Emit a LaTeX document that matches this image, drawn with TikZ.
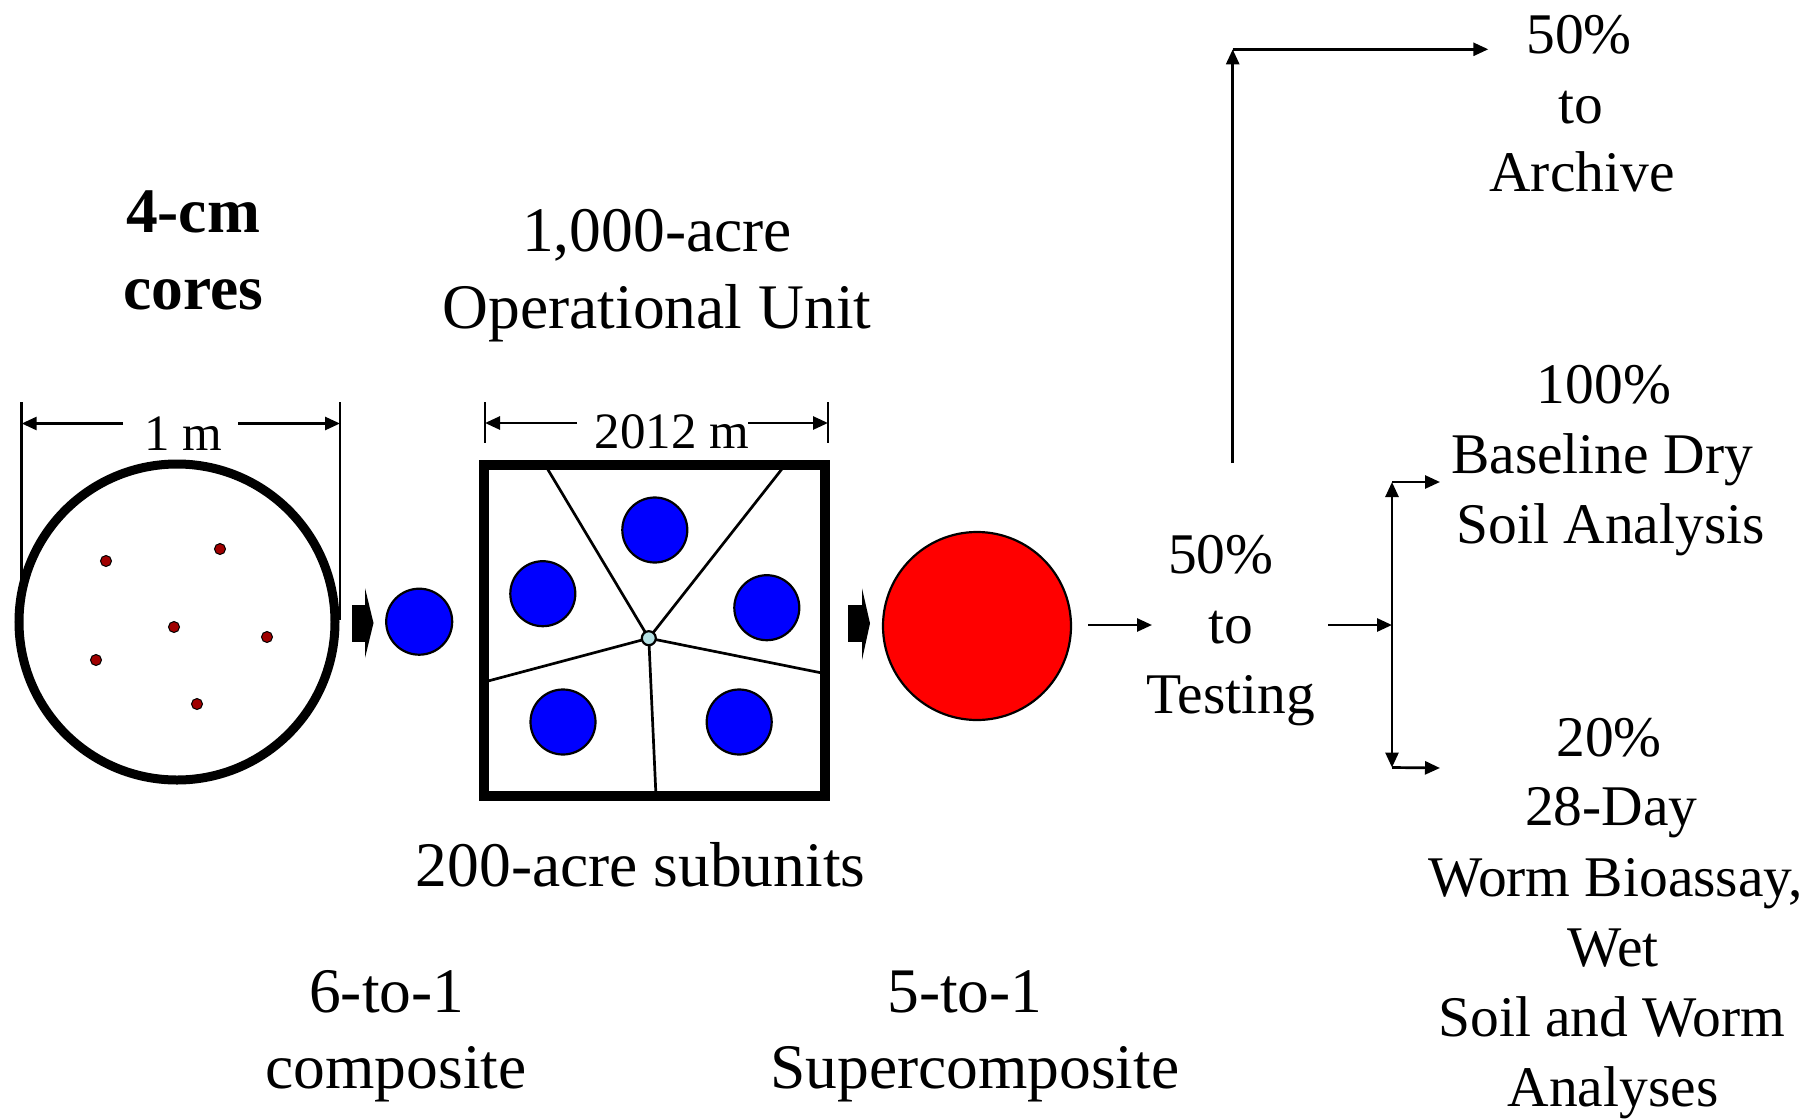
\documentclass[tikz,border=0pt]{standalone}
\usepackage{fontspec}
\setmainfont{Liberation Serif}
\usetikzlibrary{arrows.meta}
\definecolor{dotred}{RGB}{160,0,0}
\definecolor{pblue}{RGB}{180,225,228}
\definecolor{bblue}{RGB}{0,0,255}
\definecolor{rred}{RGB}{255,0,0}
\begin{document}
\begin{tikzpicture}[x=1pt,y=-1pt,
  bigtxt/.style={font=\fontsize{63.5}{76}\selectfont, anchor=base, inner sep=0pt},
  boldtxt/.style={font=\fontsize{63.5}{76}\selectfont\bfseries, anchor=base, inner sep=0pt},
  midtxt/.style={font=\fontsize{57.5}{69}\selectfont, anchor=base, inner sep=0pt},
  dimtxt/.style={font=\fontsize{51}{60}\selectfont, anchor=base, inner sep=0pt},
  thinline/.style={line width=2.7pt},
  arr/.style={thinline, -{Triangle[length=15pt,width=13pt]}},
  dblarr/.style={thinline, {Triangle[length=15pt,width=13pt]}-{Triangle[length=15pt,width=13pt]}},
  dot/.style={circle, draw=black, line width=1pt, fill=dotred, minimum size=11pt, inner sep=0pt},
  bluedisc/.style={circle, draw=black, line width=2.2pt, fill=bblue, minimum size=65pt, inner sep=0pt},
  blockarrow/.style={fill=black}
]
\useasboundingbox (0,0) rectangle (1810,1119);

% ---------- left: core circle ----------
\node[circle, draw=black, line width=9pt, minimum size=316pt, inner sep=0pt] (core) at (177,622) {};
\node[dot] (d1) at (106,561) {};
\node[dot] (d2) at (220,549) {};
\node[dot] (d3) at (174,627) {};
\node[dot] (d4) at (267,637) {};
\node[dot] (d5) at (96,660) {};
\node[dot] (d6) at (197,704) {};

% dimension 1 m
\coordinate (ta1) at (21.7,402);
\coordinate (tb1) at (21.7,620);
\coordinate (ta2) at (340,402);
\coordinate (tb2) at (340,620);
\coordinate (al1) at (123,423.5);
\coordinate (al2) at (21.7,423.5);
\coordinate (ar1) at (238,423.5);
\coordinate (ar2) at (340,423.5);
\draw[thinline] (ta1) -- (tb1);
\draw[thinline] (ta2) -- (tb2);
\draw[arr] (al1) -- (al2);
\draw[arr] (ar1) -- (ar2);
\node[dimtxt] (onem) at (183.3,450) {1 m};

\node[boldtxt] (cm1) at (193,232) {4-cm};
\node[boldtxt] (cm2) at (193,309) {cores};

% block arrow 1
\fill[blockarrow] (351.7,605) rectangle (367,642);
\fill[blockarrow] (365,588) -- (373.5,623) -- (365,658) -- cycle;
\node[bluedisc, minimum size=66pt] (comp) at (419.2,621.7) {};

% ---------- square unit ----------
\coordinate (hub) at (648.8,638.2);
\coordinate (eUL) at (545,464.7);
\coordinate (eUR) at (785.3,464.7);
\coordinate (eL) at (484.3,682);
\coordinate (eR) at (825,673.6);
\coordinate (eB) at (656,796.2);
\draw[thinline] (hub) -- (eUL);
\draw[thinline] (hub) -- (eUR);
\draw[thinline] (hub) -- (eL);
\draw[thinline] (hub) -- (eR);
\draw[thinline] (hub) -- (eB);
\node[rectangle, draw=black, line width=10pt, minimum width=340.7pt, minimum height=331.5pt, inner sep=0pt] (unit) at (654.65,630.45) {};
\node[circle, draw=black, line width=2.2pt, fill=pblue, minimum size=14pt, inner sep=0pt] (hubc) at (hub) {};
\node[bluedisc] (s1) at (654.8,530) {};
\node[bluedisc] (s2) at (542.8,593.7) {};
\node[bluedisc] (s3) at (766.8,607.7) {};
\node[bluedisc] (s4) at (563,722) {};
\node[bluedisc] (s5) at (739.2,722) {};

% dimension 2012 m
\coordinate (tc1) at (485,402);
\coordinate (td1) at (485,443);
\coordinate (tc2) at (828,402);
\coordinate (td2) at (828,443);
\coordinate (bl1) at (577,423);
\coordinate (bl2) at (485,423);
\coordinate (br1) at (748,423);
\coordinate (br2) at (828,423);
\draw[thinline] (tc1) -- (td1);
\draw[thinline] (tc2) -- (td2);
\draw[arr] (bl1) -- (bl2);
\draw[arr] (br1) -- (br2);
\node[dimtxt] (twom) at (672,448) {2012 m};

\node[bigtxt] (ou1) at (657,251.6) {1,000-acre};
\node[bigtxt] (ou2) at (657,328) {Operational Unit};
\node[bigtxt] (sub) at (640.6,886.5) {200-acre subunits};

% block arrow 2
\fill[blockarrow] (848.3,605) rectangle (863.3,641.7);
\fill[blockarrow] (862,588.3) -- (870,623.3) -- (862,660) -- cycle;
\node[circle, draw=black, line width=2.2pt, fill=rred, minimum size=188pt, inner sep=0pt] (super) at (977,626) {};

% bottom labels
\node[bigtxt] (c61) at (386.7,1012) {6-to-1};
\node[bigtxt] (c62) at (396,1088.5) {composite};
\node[bigtxt] (c51) at (965,1012) {5-to-1};
\node[bigtxt] (c52) at (974.8,1088.5) {Supercomposite};

% ---------- testing ----------
\coordinate (rs) at (1088,625);
\coordinate (re) at (1152,625);
\draw[arr] (rs) -- (re);
\node[midtxt] (te1) at (1220.7,573.5) {50\%};
\node[midtxt] (te2) at (1231,643.3) {to};
\node[midtxt] (te3) at (1231,713.3) {Testing};

% archive branch
\coordinate (av0) at (1232.7,463);
\coordinate (av1) at (1232.7,49.3);
\coordinate (ah1) at (1488.3,49.3);
\draw[arr] (av0) -- (av1);
\draw[arr] (av1) -- (ah1);
\node[midtxt] (ar1t) at (1579,53) {50\%};
\node[midtxt] (ar2t) at (1581,123.5) {to};
\node[midtxt] (ar3t) at (1582,191.7) {Archive};

% split branch
\coordinate (ts) at (1328,625);
\coordinate (vj) at (1392,625);
\coordinate (vt) at (1392,482);
\coordinate (vb) at (1392,767.5);
\coordinate (ht) at (1440,482);
\coordinate (hb) at (1440,768);
\draw[arr] (ts) -- (vj);
\draw[dblarr] (vt) -- (vb);
\draw[arr] (vt) -- (ht);
\draw[arr] (vb) -- (hb);

\node[midtxt] (b1) at (1604,403.3) {100\%};
\node[midtxt] (b2) at (1602,473.3) {Baseline Dry};
\node[midtxt] (b3) at (1610.7,543.3) {Soil Analysis};

\node[midtxt] (w1) at (1609,756) {20\%};
\node[midtxt] (w2) at (1611.4,825.5) {28-Day};
\node[midtxt] (w3) at (1615.8,896.5) {Worm Bioassay,};
\node[midtxt] (w4) at (1613,966) {Wet};
\node[midtxt] (w5) at (1611.7,1036.5) {Soil and Worm};
\node[midtxt] (w6) at (1613,1106.5) {Analyses};
\end{tikzpicture}
\end{document}
